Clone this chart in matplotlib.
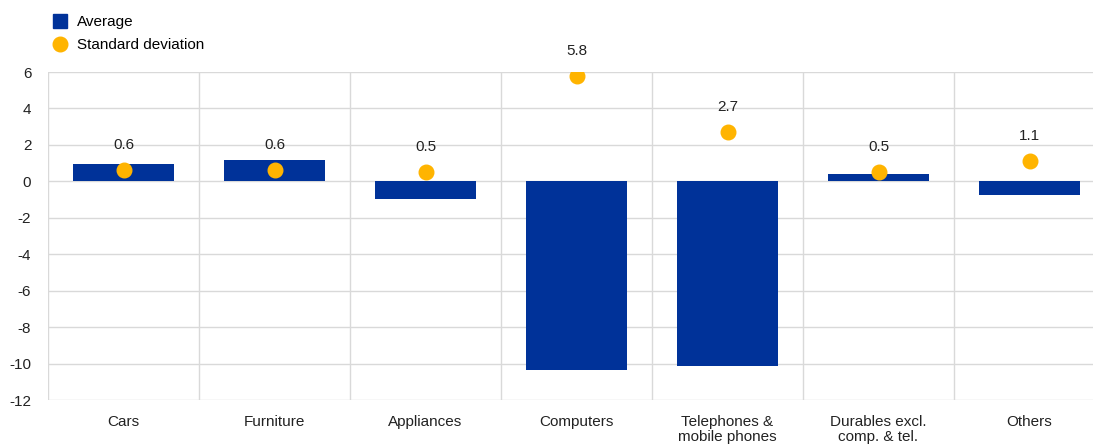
import numpy as np
import matplotlib.pyplot as plt
from matplotlib.lines import Line2D

categories = ["Cars", "Furniture", "Appliances", "Computers",
              "Telephones &\nmobile phones", "Durables excl.\ncomp. & tel.", "Others"]
average = [0.95, 1.15, -0.95, -10.35, -10.15, 0.4, -0.75]
std_dev = [0.6, 0.6, 0.5, 5.8, 2.7, 0.5, 1.1]
yticks = [6, 4, 2, 0, -2, -4, -6, -8, -10, -12]

blue = "#003299"
yellow = "#FFB400"
grid = "#d9d9d9"

plt.rcParams['font.family'] = ['Liberation Sans', 'DejaVu Sans']

fig = plt.figure(figsize=(10.93, 4.44), dpi=100)
ax = fig.add_axes([48/1093, 44/444, 1057/1093, 328/444])

x = np.arange(len(categories))
ax.bar(x, average, width=0.67, color=blue, zorder=2)
ax.scatter(x, std_dev, s=110, color=yellow, zorder=3)
for xi, v in zip(x, std_dev):
    ax.annotate(f"{v:.1f}", (xi, v), xytext=(0, 13), textcoords="offset points",
                ha="center", va="bottom", fontsize=11, color="#222222")

ax.set_xlim(-0.5, len(categories) - 0.5)
ax.set_ylim(-12, 6)
ax.set_yticks(yticks)
ax.set_yticklabels([str(t) for t in yticks])
ax.set_xticks(x)
ax.set_xticklabels(categories, linespacing=1.15)
for b in np.arange(-0.5, len(categories), 1.0):
    ax.axvline(b, color=grid, lw=1, zorder=1)
for t in yticks:
    ax.axhline(t, color=grid, lw=1, zorder=1)
for s in ax.spines.values():
    s.set_visible(False)
ax.tick_params(length=0, labelsize=11, colors="#222222")
ax.tick_params(axis='y', pad=12)
ax.tick_params(axis='x', pad=10.5)

handles = [Line2D([], [], marker='s', ls='', color=blue, markersize=10),
           Line2D([], [], marker='o', ls='', color=yellow, markersize=10.5)]
fig.legend(handles, ["Average", "Standard deviation"], loc="upper left",
           bbox_to_anchor=(40/1093, 0.99), frameon=False, fontsize=11,
           handletextpad=0.5, labelspacing=0.6, handlelength=1.2, borderpad=0.2)

fig.savefig("out.png", dpi=100)
